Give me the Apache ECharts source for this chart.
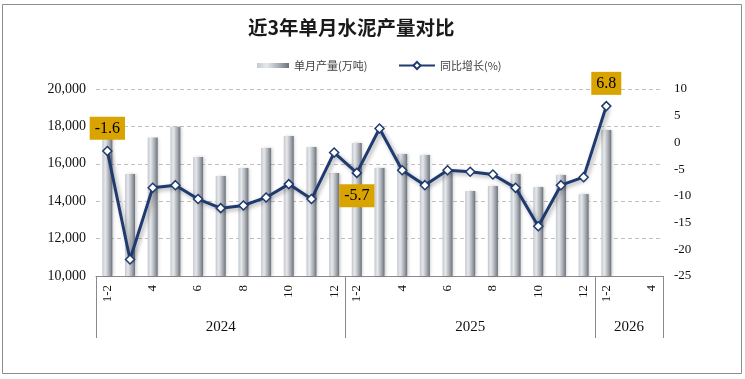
<!DOCTYPE html>
<html><head><meta charset="utf-8">
<script src="https://cdn.jsdelivr.net/npm/echarts@6/dist/echarts.min.js"></script>
<style>html,body{margin:0;padding:0;background:#fff}#c{width:745px;height:379px}</style>
</head><body><div id="c"></div>
<script>
const years = ['2024', '2025', '2026'];
const months2024 = ['1-2','3','4','5','6','7','8','9','10','11','12'];
const months2025 = ['1-2','3','4','5','6','7','8','9','10','11','12'];
const months2026 = ['1-2','3','4'];
const output = [17500,15450,17400,17980,16360,15350,15780,16840,17490,16900,15510,
  17110,15780,16520,16470,15600,14550,14810,15450,14760,15400,14380,
  17810,null,null];
const growth = [-1.6,-21.9,-8.5,-8.0,-10.6,-12.3,-11.8,-10.3,-7.8,-10.6,-1.9,
  -5.7,2.6,-5.2,-8.0,-5.2,-5.5,-6.0,-8.5,-15.7,-8.0,-6.5,
  6.8,null,null];
const leftAxisRange = [10000, 20000, 2000];
const rightAxisRange = [-25, 10, 5];
const seriesNames = ['单月产量(万吨)', '同比增长(%)'];
const titleText = '近3年单月水泥产量对比';

const monthGroups = [months2024, months2025, months2026];
const categories = [], monthLabel = [], groupStart = [], groupMid = {};
let k = 0;
monthGroups.forEach((g, gi) => {
  groupStart.push(k);
  groupMid[k + Math.floor(g.length / 2)] = years[gi];
  g.forEach(m => { categories.push(years[gi] + '|' + m); monthLabel.push(m); k++; });
});
function startOf(idx) { let s = 0; groupStart.forEach(st => { if (idx >= st) s = st; }); return s; }

const NAVY = '#1f3a70';
const serif = 'Liberation Serif';
const labelPos = {0: 'top', 11: 'bottom', 22: 'top'};
const lineData = growth.map((v, i) => {
  if (labelPos[i] === undefined) return v;
  return { value: v, label: { show: true, position: labelPos[i], distance: 6,
    formatter: p => p.value.toFixed(1), backgroundColor: '#d9a300', color: '#000',
    fontFamily: serif, fontSize: 16, padding: [4, 5, 3, 5] } };
});

const barGrad = new echarts.graphic.LinearGradient(0, 0, 1, 0, [
  {offset: 0, color: '#c4c9d0'}, {offset: 0.3, color: '#e6e8eb'},
  {offset: 0.7, color: '#a5aab2'}, {offset: 1, color: '#6b717a'}]);

const chart = echarts.init(document.getElementById('c'));
chart.setOption({
  backgroundColor: '#fff',
  animation: false,
  title: { text: titleText, left: 243, top: 13,
    textStyle: { fontSize: 19.5, fontWeight: 'bold', fontFamily: 'Noto Sans CJK SC', color: '#1a1a1a' } },
  legend: [
    { data: [seriesNames[0]], left: 252, top: 55, itemWidth: 32, itemHeight: 5, icon: 'rect',
      textStyle: { fontSize: 11, color: '#404040', fontFamily: 'Noto Sans CJK SC' } },
    { data: [seriesNames[1]], left: 393, top: 55, itemWidth: 36, itemHeight: 9,
      textStyle: { fontSize: 11, color: '#404040', fontFamily: 'Noto Sans CJK SC' } }
  ],
  graphic: [{ type: 'rect', shape: { x: 2.5, y: 4.5, width: 739, height: 369 },
    style: { fill: 'none', stroke: '#8c8c8c', lineWidth: 1 }, silent: true }],
  grid: { left: 96, right: 82, top: 89, bottom: 103, containLabel: false },
  xAxis: [
    { type: 'category', data: categories, position: 'bottom', boundaryGap: true,
      axisLine: { show: true, onZero: false, lineStyle: { color: '#8a8a8a', width: 1 } },
      axisTick: { show: false },
      axisLabel: { rotate: 90, margin: 9, fontFamily: serif, fontSize: 13, color: '#111',
        interval: idx => (idx - startOf(idx)) % 2 === 0,
        formatter: (v, idx) => monthLabel[idx] } },
    { type: 'category', data: categories, position: 'bottom', boundaryGap: true,
      axisLine: { show: false, onZero: false },
      axisTick: { show: true, length: 62, interval: idx => groupStart.indexOf(idx) >= 0,
        lineStyle: { color: '#8a8a8a', width: 1 } },
      axisLabel: { margin: 44, fontFamily: serif, fontSize: 15, color: '#111',
        interval: idx => groupMid[idx] !== undefined,
        formatter: (v, idx) => groupMid[idx] || '' } }
  ],
  yAxis: [
    { type: 'value', min: leftAxisRange[0], max: leftAxisRange[1], interval: leftAxisRange[2],
      axisLine: { show: false }, axisTick: { show: false },
      axisLabel: { margin: 10, fontFamily: serif, fontSize: 14, color: '#111',
        formatter: v => v.toLocaleString('en-US') },
      splitLine: { show: true, lineStyle: { color: '#c0c0c0', type: [4, 3], width: 1 } } },
    { type: 'value', min: rightAxisRange[0], max: rightAxisRange[1], interval: rightAxisRange[2],
      position: 'right',
      axisLine: { show: false }, axisTick: { show: false },
      axisLabel: { margin: 11, fontFamily: serif, fontSize: 13, color: '#111' },
      splitLine: { show: false } }
  ],
  series: [
    { name: seriesNames[0], type: 'bar', data: output, barWidth: 10, xAxisIndex: 0, yAxisIndex: 0,
      itemStyle: { color: barGrad, shadowColor: 'rgba(0,0,0,0.2)', shadowBlur: 3, shadowOffsetX: 1.5, shadowOffsetY: 0 } },
    { name: seriesNames[1], type: 'line', data: lineData, xAxisIndex: 0, yAxisIndex: 1,
      symbol: 'diamond', symbolSize: 9, showAllSymbol: true, connectNulls: false, z: 5,
      lineStyle: { color: NAVY, width: 3, shadowColor: 'rgba(0,0,0,0.35)', shadowBlur: 4, shadowOffsetX: 2, shadowOffsetY: 2 },
      itemStyle: { color: '#fff', borderColor: NAVY, borderWidth: 1.5 } }
  ]
});
</script></body></html>
